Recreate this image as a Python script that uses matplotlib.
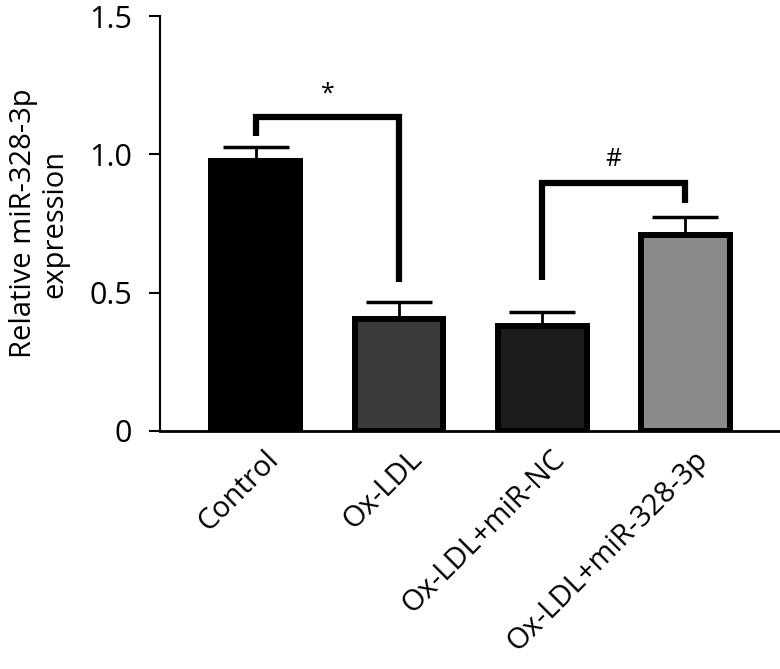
import matplotlib.pyplot as plt
import matplotlib.transforms as mtransforms

plt.rcParams['font.family'] = ['Open Sans', 'DejaVu Sans']

groups = ["Control", "Ox-LDL", "Ox-LDL+miR-NC", "Ox-LDL+miR-328-3p"]
means = [0.975, 0.405, 0.38, 0.707]
errors = [0.05, 0.06, 0.05, 0.068]
colors = ["#000000", "#3a3a3a", "#1c1c1c", "#8a8a8a"]

x = list(range(len(groups)))

fig = plt.figure(figsize=(7.8, 6.69), dpi=100)
ax = fig.add_axes([0.205, 0.356, 0.795, 0.62])

ax.bar(x, means, width=0.62, color=colors, edgecolor="black", linewidth=4.3, zorder=2)
ax.errorbar(x, means, yerr=[[0] * 4, errors], fmt="none", ecolor="black",
            elinewidth=2, capsize=24, capthick=2.5, zorder=1)

# significance brackets
def bracket(x1, x2, y, y1, y2, label):
    ax.plot([x1, x1, x2, x2], [y1, y, y, y2], color="black", lw=4.5,
            solid_joinstyle="miter", solid_capstyle="butt", zorder=3)
    ax.text((x1 + x2) / 2, y + 0.04, label, ha="center", va="bottom", fontsize=18)

bracket(0, 1, 1.134, 1.065, 0.54, "*")
bracket(2, 3, 0.895, 0.545, 0.823, "#")

ax.set_xlim(-0.67, 3.66)
ax.set_ylim(0, 1.5)
ax.set_yticks([0, 0.5, 1.0, 1.5])
ax.set_yticklabels(["0", "0.5", "1.0", "1.5"], fontsize=22)
ax.set_xticks(x)
ax.set_xticklabels(groups, fontsize=21, rotation=45, ha="right", rotation_mode="anchor")
ax.tick_params(axis="x", length=0, pad=10)
ax.tick_params(axis="y", length=8, width=1.5, direction="out", pad=12)

# nudge the angled labels a little to the right
shift = mtransforms.ScaledTranslation(8 / 100, 0, fig.dpi_scale_trans)
for lab in ax.get_xticklabels():
    lab.set_transform(lab.get_transform() + shift)

ax.spines["top"].set_visible(False)
ax.spines["right"].set_visible(False)
ax.spines["left"].set_linewidth(1.5)
ax.spines["bottom"].set_linewidth(2)

ax.set_ylabel("Relative miR-328-3p\nexpression", fontsize=21, labelpad=14, linespacing=1.1)

plt.savefig("out.png", dpi=100)
